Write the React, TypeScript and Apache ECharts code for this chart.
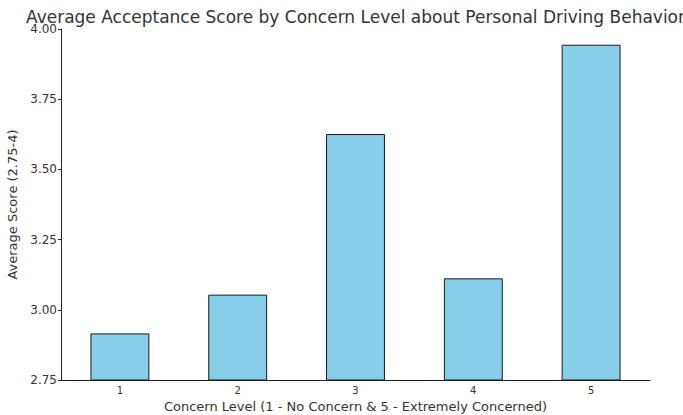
import React, { useEffect, useRef } from "react";
import * as echarts from "echarts";

const categories = ["1", "2", "3", "4", "5"];
const scores = [2.916, 3.054, 3.626, 3.112, 3.944];
const yTicks = { min: 2.75, max: 4, interval: 0.25 };
const titleText = "Average Acceptance Score by Concern Level about Personal Driving Behavior";
const xName = "Concern Level (1 - No Concern & 5 - Extremely Concerned)";
const yName = "Average Score (2.75-4)";

const FONT = "DejaVu Sans";

export default function App() {
  const ref = useRef<HTMLDivElement>(null);
  useEffect(() => {
    document.body.style.margin = "0";
    if (!ref.current) return;
    const chart = echarts.init(ref.current, undefined, { renderer: "svg" });
    chart.setOption({
      animation: false,
      backgroundColor: "#ffffff",
      grid: { left: 61, right: 33, top: 29, bottom: 35, containLabel: false, outerBoundsMode: "none" },
      graphic: [
        {
          type: "text",
          x: 355.5,
          y: 17,
          style: {
            text: titleText,
            font: `17px '${FONT}'`,
            fill: "#333333",
            textAlign: "center",
            textVerticalAlign: "middle",
          },
        },
      ],
      xAxis: {
        type: "category",
        data: categories,
        boundaryGap: true,
        name: xName,
        nameLocation: "middle",
        nameGap: 18,
        nameTextStyle: { fontFamily: FONT, fontSize: 13, color: "#333333" },
        axisLine: { show: true, lineStyle: { color: "#222222", width: 1 } },
        axisTick: { show: true, inside: true, length: 3, alignWithLabel: true, lineStyle: { color: "#222222" } },
        axisLabel: { fontFamily: FONT, fontSize: 10, color: "#333333", margin: 5 },
        splitLine: { show: false },
      },
      yAxis: {
        type: "value",
        min: yTicks.min,
        max: yTicks.max,
        interval: yTicks.interval,
        name: yName,
        nameLocation: "middle",
        nameGap: 36,
        nameRotate: 90,
        nameTextStyle: { fontFamily: FONT, fontSize: 13, color: "#333333" },
        axisLine: { show: true, lineStyle: { color: "#222222", width: 1 } },
        axisTick: { show: true, inside: false, length: 3, lineStyle: { color: "#222222" } },
        axisLabel: {
          fontFamily: FONT,
          fontSize: 12,
          color: "#333333",
          margin: 4,
          formatter: (v: number) => v.toFixed(2),
        },
        splitLine: { show: false },
      },
      series: [
        {
          type: "bar",
          data: scores,
          barWidth: "50%",
          itemStyle: { color: "#87CEEB", borderColor: "#1a1a1a", borderWidth: 1 },
        },
      ],
    });
    return () => chart.dispose();
  }, []);
  return <div ref={ref} style={{ width: 683, height: 415 }} />;
}
